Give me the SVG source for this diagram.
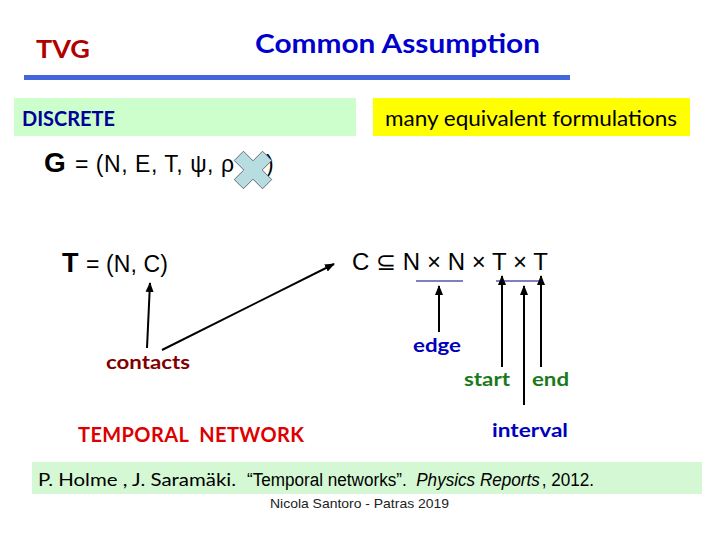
<svg xmlns="http://www.w3.org/2000/svg" width="720" height="540" viewBox="0 0 720 540">
<style>
.cal{font-family:Lato,"Open Sans","Liberation Sans",sans-serif}
.ar{font-family:"Liberation Sans",Arial,sans-serif}
.b{font-weight:bold}
.ln{stroke:#000;stroke-width:2;fill:none}
</style>
<defs>
<marker id="ah" viewBox="0 0 10 10" refX="9" refY="5" markerWidth="5" markerHeight="5" orient="auto" markerUnits="strokeWidth">
<path d="M0,1 L10,5 L0,9 z" fill="#000"/>
</marker>
</defs>
<rect width="720" height="540" fill="#fff"/>
<g id="title">
<text class="cal b" x="36" y="58" font-size="24" fill="#b00000" textLength="54" lengthAdjust="spacingAndGlyphs">TVG</text>
<text class="cal b" x="255" y="53" font-size="26" fill="#0000cc" textLength="285" lengthAdjust="spacingAndGlyphs">Common Assumption</text>
<rect x="24" y="75" width="546" height="5" fill="#4466dd"/>
</g>
<g id="discrete">
<rect x="14" y="98" width="342" height="38" fill="#ccffcc"/>
<text class="cal b" x="22" y="126" font-size="20" fill="#000099" textLength="93" lengthAdjust="spacingAndGlyphs">DISCRETE</text>
</g>
<g id="formulations">
<rect x="373" y="98" width="317" height="38" fill="#ffff00"/>
<text class="cal" x="385" y="126" font-size="21" fill="#000" textLength="292" lengthAdjust="spacingAndGlyphs">many equivalent formulations</text>
</g>
<g id="G">
<text class="ar" x="44" y="172" font-size="28" font-weight="bold" fill="#000">G</text>
<text class="ar" x="75" y="172" font-size="23" fill="#000" textLength="159" lengthAdjust="spacing">= (N, E, T, ψ, ρ</text>
<text class="ar" x="266" y="172" font-size="23" fill="#000">)</text>
<polygon transform="translate(253,170) rotate(45)" points="-6.5,-20 6.5,-20 6.5,-6.5 20,-6.5 20,6.5 6.5,6.5 6.5,20 -6.5,20 -6.5,6.5 -20,6.5 -20,-6.5 -6.5,-6.5" fill="#b8dde0" stroke="#556" stroke-width="0.8"/>
</g>
<g id="T">
<text class="ar" x="62" y="272" font-size="27" font-weight="bold" fill="#000">T</text>
<text class="ar" x="86" y="272" font-size="23" fill="#000" textLength="82" lengthAdjust="spacing">= (N, C)</text>
</g>
<g id="C">
<text class="ar" x="352" y="270" font-size="24" fill="#000" textLength="196" lengthAdjust="spacing">C ⊆ N × N × T × T</text>
<line x1="416" y1="281" x2="463" y2="281" stroke="#000080" stroke-width="1"/>
<line x1="496" y1="281" x2="541" y2="281" stroke="#000080" stroke-width="1"/>
</g>
<g id="labels">
<text class="cal b" x="106" y="369" font-size="19" fill="#800000" textLength="84" lengthAdjust="spacingAndGlyphs">contacts</text>
<text class="cal b" x="413" y="352" font-size="19" fill="#0000bb" textLength="48" lengthAdjust="spacingAndGlyphs">edge</text>
<text class="cal b" x="464" y="386" font-size="19" fill="#1a7a1a" textLength="46" lengthAdjust="spacingAndGlyphs">start</text>
<text class="cal b" x="532" y="386" font-size="19" fill="#1a7a1a" textLength="37" lengthAdjust="spacingAndGlyphs">end</text>
<text class="cal b" x="492" y="437" font-size="19" fill="#0000bb" textLength="76" lengthAdjust="spacingAndGlyphs">interval</text>
<text class="cal b" x="78" y="442" font-size="20" fill="#dd0000" textLength="226" lengthAdjust="spacing">TEMPORAL&#160; NETWORK</text>
</g>
<g id="connectors">
<line class="ln" x1="147" y1="348" x2="150" y2="283" marker-end="url(#ah)"/>
<line class="ln" x1="162" y1="350" x2="334" y2="264" marker-end="url(#ah)"/>
<line class="ln" x1="439" y1="332" x2="439" y2="286" marker-end="url(#ah)"/>
<line class="ln" x1="502" y1="367" x2="502" y2="276" marker-end="url(#ah)"/>
<line class="ln" x1="541" y1="367" x2="541" y2="276" marker-end="url(#ah)"/>
<line class="ln" x1="524" y1="405" x2="524" y2="286" marker-end="url(#ah)"/>
</g>
<g id="reference">
<rect x="32" y="462" width="670" height="32" fill="#d4f8d4"/>
<text class="cal" x="38" y="486" font-size="17" fill="#000" textLength="198" lengthAdjust="spacingAndGlyphs">P. Holme , J. Saramäki.</text>
<text class="ar" x="247" y="486" font-size="18" fill="#000" textLength="347" lengthAdjust="spacingAndGlyphs">“Temporal networks”.&#160; <tspan font-style="italic">Physics Reports</tspan><tspan dx="2">, 2012.</tspan></text>
<text class="ar" x="270" y="508" font-size="13" fill="#222" textLength="179" lengthAdjust="spacingAndGlyphs">Nicola Santoro - Patras 2019</text>
</g>
</svg>
